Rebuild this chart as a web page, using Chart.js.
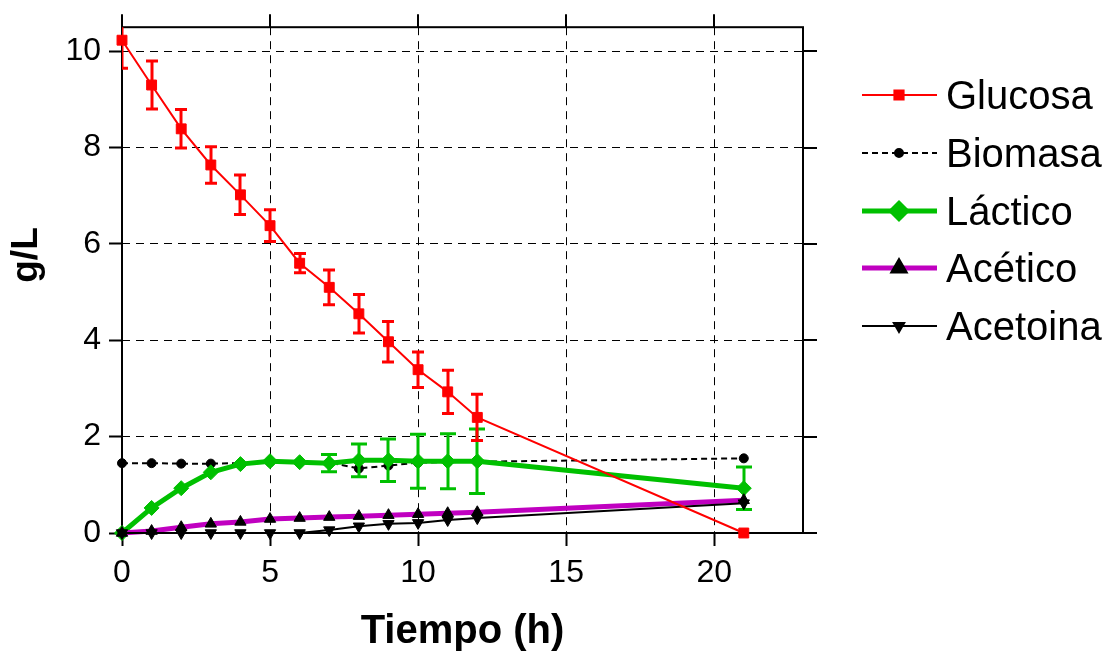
<!DOCTYPE html>
<html>
<head>
<meta charset="utf-8">
<script src="https://cdn.jsdelivr.net/npm/chart.js@4/dist/chart.umd.min.js"></script>
<style>
  html, body { margin: 0; padding: 0; background: #fff; }
  #wrap { width: 1112px; height: 654px; }
</style>
</head>
<body>
<div id="wrap"><canvas id="c" width="1112" height="654"></canvas></div>
<script>
// Tiempo de muestreo (h)
const tiempo = [0, 1, 2, 3, 4, 5, 6, 7, 8, 9, 10, 11, 12, 21];

// Concentraciones (g/L)
const glucosa   = [10.23, 9.30, 8.39, 7.64, 7.02, 6.38, 5.60, 5.10, 4.55, 3.97, 3.39, 2.93, 2.40, 0.00];
const glucosaSd = [0.58, 0.50, 0.40, 0.38, 0.41, 0.33, 0.20, 0.36, 0.40, 0.42, 0.37, 0.45, 0.48, 0.00];
const biomasa   = [1.45, 1.45, 1.44, 1.44, 1.45, 1.47, 1.47, 1.46, 1.34, 1.40, 1.46, 1.47, 1.48, 1.55];
const lactico   = [0.00, 0.52, 0.93, 1.26, 1.43, 1.49, 1.47, 1.45, 1.51, 1.51, 1.49, 1.49, 1.49, 0.93];
const lacticoSd = [0, 0, 0, 0, 0, 0, 0, 0.18, 0.34, 0.44, 0.56, 0.57, 0.67, 0.44];
const acetico   = [0.00, 0.04, 0.12, 0.19, 0.23, 0.29, 0.31, 0.33, 0.35, 0.37, 0.39, 0.41, 0.43, 0.68];
const acetoina  = [0.00, 0.00, 0.00, 0.00, 0.00, 0.00, 0.00, 0.06, 0.14, 0.19, 0.21, 0.27, 0.31, 0.62];

// Ejes
const xTicks = [0, 5, 10, 15, 20];
const yTicks = [0, 2, 4, 6, 8, 10];
const xTitulo = 'Tiempo (h)';
const yTitulo = 'g/L';

const FONT = '"Liberation Sans", Arial, sans-serif';
const pts = arr => tiempo.map((t, i) => ({ x: t, y: arr[i] }));

// Barras de error verticales con remate, dibujadas justo tras su serie
const errorBars = {
  id: 'errorBars',
  afterDatasetDraw(chart, args) {
    const ds = chart.data.datasets[args.index];
    if (!ds.sd) return;
    const { ctx, chartArea: a, scales: { x, y } } = chart;
    ctx.save();
    ctx.beginPath();
    ctx.rect(a.left, a.top, a.right - a.left, a.bottom - a.top + 20);
    ctx.clip();
    ctx.strokeStyle = ds.borderColor;
    ctx.lineWidth = 3;
    const half = ds.capWidth / 2;
    ds.data.forEach((p, i) => {
      const e = ds.sd[i];
      if (!e) return;
      const px = Math.round(x.getPixelForValue(p.x));
      const y1 = y.getPixelForValue(p.y + e);
      const y2 = y.getPixelForValue(p.y - e);
      ctx.beginPath();
      ctx.moveTo(px, y1); ctx.lineTo(px, y2);
      ctx.moveTo(px - half, y1); ctx.lineTo(px + half, y1);
      ctx.moveTo(px - half, y2); ctx.lineTo(px + half, y2);
      ctx.stroke();
    });
    ctx.restore();
  }
};

// Marco del gráfico, marcas espejo arriba/derecha y títulos de ejes
const frame = {
  id: 'frame',
  beforeDatasetsDraw(chart) {
    const { ctx, chartArea: a, scales: { x, y } } = chart;
    ctx.save();
    ctx.strokeStyle = '#000';
    ctx.lineWidth = 2;
    ctx.strokeRect(a.left, a.top, a.right - a.left, a.bottom - a.top);
    ctx.beginPath();
    xTicks.forEach(v => {
      const px = Math.round(x.getPixelForValue(v));
      ctx.moveTo(px, a.top); ctx.lineTo(px, a.top - 13);
    });
    yTicks.forEach(v => {
      const py = Math.round(y.getPixelForValue(v));
      ctx.moveTo(a.right, py); ctx.lineTo(a.right + 14, py);
    });
    ctx.stroke();
    ctx.restore();
  },
  afterDraw(chart) {
    const { ctx, chartArea: a } = chart;
    ctx.save();
    ctx.fillStyle = '#000';
    ctx.textAlign = 'center';
    ctx.textBaseline = 'alphabetic';
    ctx.font = 'bold 40px ' + FONT;
    ctx.fillText(xTitulo, (a.left + a.right) / 2, 643);
    ctx.translate(37, 255);
    ctx.rotate(-Math.PI / 2);
    ctx.font = 'bold 37px ' + FONT;
    ctx.fillText(yTitulo, 0, 0);
    ctx.restore();
  }
};

// Leyenda a la derecha: muestra de línea con marcador y nombre de la serie
const leyenda = {
  id: 'leyenda',
  afterDraw(chart) {
    const { ctx } = chart;
    const x0 = 862, x1 = 937, xm = 899, xt = 946;
    const rows = [95, 153, 211, 268, 326];
    chart.data.datasets.forEach((ds, i) => {
      const yy = rows[i];
      ctx.save();
      ctx.strokeStyle = ds.borderColor;
      ctx.lineWidth = ds.borderWidth;
      ctx.setLineDash(ds.borderDash || []);
      ctx.beginPath();
      ctx.moveTo(x0, yy); ctx.lineTo(x1, yy);
      ctx.stroke();
      ctx.setLineDash([]);
      ctx.fillStyle = ds.pointBackgroundColor;
      ctx.strokeStyle = ds.pointBorderColor;
      Chart.helpers.drawPoint(ctx, {
        pointStyle: ds.pointStyle,
        rotation: ds.pointRotation || 0,
        radius: ds.legendRadius,
        borderWidth: 1
      }, xm, yy);
      ctx.fillStyle = '#000';
      ctx.font = '40px ' + FONT;
      ctx.textAlign = 'left';
      ctx.textBaseline = 'alphabetic';
      ctx.fillText(ds.label, xt, yy + 14);
      ctx.restore();
    });
  }
};

const axisCommon = {
  type: 'linear',
  grid: {
    color: '#000',
    lineWidth: 1,
    drawTicks: true,
    tickLength: 13,
    tickWidth: 2,
    tickColor: '#000'
  },
  border: { display: false, dash: [8, 6] }
};

new Chart(document.getElementById('c'), {
  type: 'line',
  data: {
    datasets: [
      {
        label: 'Glucosa', data: pts(glucosa), sd: glucosaSd, capWidth: 12,
        borderColor: '#ff0000', borderWidth: 2,
        pointStyle: 'rect', pointRadius: 7, legendRadius: 6.5,
        pointBackgroundColor: '#ff0000', pointBorderColor: '#ff0000', pointBorderWidth: 1,
        order: 0
      },
      {
        label: 'Biomasa', data: pts(biomasa),
        borderColor: '#000', borderWidth: 2, borderDash: [6, 4],
        pointStyle: 'circle', pointRadius: 4.5, legendRadius: 4,
        pointBackgroundColor: '#000', pointBorderColor: '#000', pointBorderWidth: 1,
        order: 4
      },
      {
        label: 'Láctico', data: pts(lactico), sd: lacticoSd, capWidth: 16,
        borderColor: '#00c000', borderWidth: 5,
        pointStyle: 'rectRot', pointRadius: 7.5, legendRadius: 7.5,
        pointBackgroundColor: '#00c000', pointBorderColor: '#00c000', pointBorderWidth: 1,
        order: 3
      },
      {
        label: 'Acético', data: pts(acetico),
        borderColor: '#c000c0', borderWidth: 5,
        pointStyle: 'triangle', pointRadius: 6.5, legendRadius: 6,
        pointBackgroundColor: '#000', pointBorderColor: '#000', pointBorderWidth: 1,
        order: 2
      },
      {
        label: 'Acetoina', data: pts(acetoina),
        borderColor: '#000', borderWidth: 2,
        pointStyle: 'triangle', pointRotation: 180, pointRadius: 6.5, legendRadius: 6,
        pointBackgroundColor: '#000', pointBorderColor: '#000', pointBorderWidth: 1,
        order: 1
      }
    ]
  },
  options: {
    responsive: false,
    animation: false,
    devicePixelRatio: 1,
    clip: false,
    layout: { padding: { left: 0, top: 25, right: 309, bottom: 0 } },
    elements: { line: { tension: 0 } },
    plugins: { legend: { display: false }, tooltip: { enabled: false } },
    scales: {
      x: Object.assign({}, axisCommon, {
        min: 0, max: 23,
        ticks: {
          stepSize: 5, includeBounds: false, maxRotation: 0,
          color: '#000', padding: 8, font: { family: FONT, size: 32 },
          callback: v => xTicks.includes(v) ? String(v) : null
        },
        afterFit: s => { s.height = 121; }
      }),
      y: Object.assign({}, axisCommon, {
        min: 0, max: 10.5,
        ticks: {
          stepSize: 2, includeBounds: false,
          color: '#000', padding: 8, font: { family: FONT, size: 32 },
          callback: v => yTicks.includes(v) ? String(v) : null
        },
        afterFit: s => { s.width = 122; }
      })
    }
  },
  plugins: [frame, errorBars, leyenda]
});
</script>
</body>
</html>
